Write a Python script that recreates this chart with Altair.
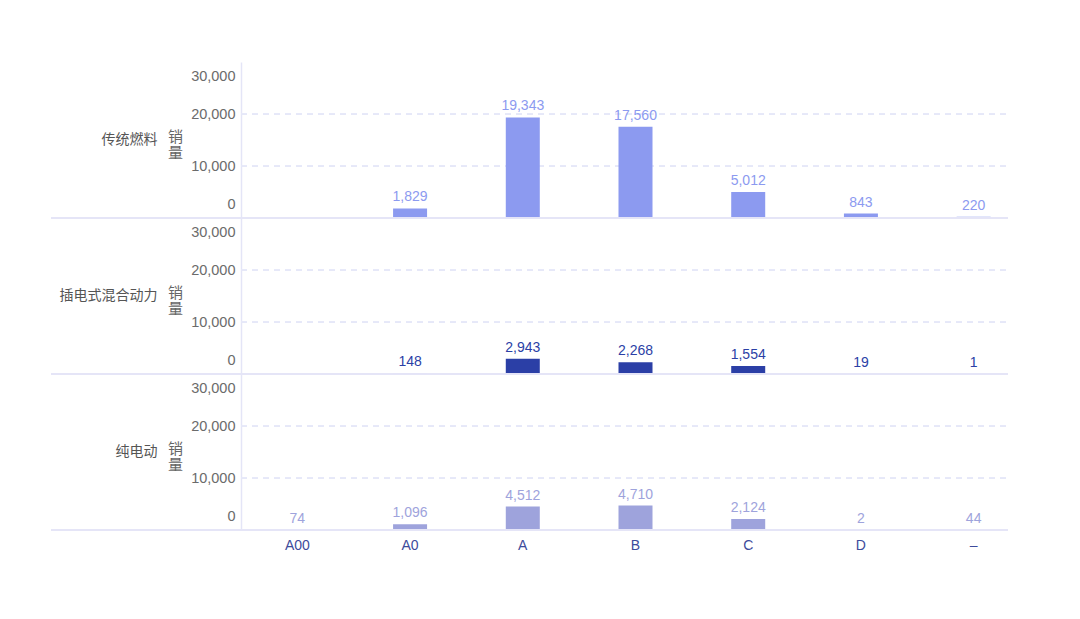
import altair as alt
import pandas as pd

categories = ["A00", "A0", "A", "B", "C", "D", "–"]
types = ["传统燃料", "插电式混合动力", "纯电动"]
fuel_sales = [None, 1829, 19343, 17560, 5012, 843, 220]
phev_sales = [None, 148, 2943, 2268, 1554, 19, 1]
bev_sales = [74, 1096, 4512, 4710, 2124, 2, 44]
y_ticks = [0, 10000, 20000, 30000]
grid_values = [10000, 20000]

rows = []
for t, vals in zip(types, [fuel_sales, phev_sales, bev_sales]):
    for c, v in zip(categories, vals):
        if v is not None:
            rows.append({"type": t, "level": c, "sales": v})
df = pd.DataFrame(rows)

colors = ["#8c9af0", "#2b3fa6", "#9ea3dc"]
text_colors = ["#8c9af0", "#2f43a3", "#a3a7db"]
FONT = "Liberation Sans, Noto Sans CJK SC"
W, H = 767, 156

x_enc = alt.X(
    "level:N",
    sort=categories,
    scale=alt.Scale(domain=categories, range=[0, 789]),
    axis=alt.Axis(
        title=None, ticks=False, tickSize=0, domain=False, grid=False,
        labelPadding=8, labelColor="#3d4b9b", labelFontSize=14, labelFont=FONT,
        labelAngle=0,
    ),
)
y_enc = alt.Y(
    "sales:Q",
    scale=alt.Scale(domain=[0, 30000], nice=False),
    axis=alt.Axis(
        values=y_ticks, format=",d", grid=False,
        labelOffset={"condition": [
            {"test": "datum.value == 0", "value": -14},
            {"test": "datum.value == 30000", "value": 14},
        ], "value": 0},
        ticks=False, tickSize=0, labelPadding=6,
        labelColor="#6b6b6b", labelFontSize=14.5, labelFont=FONT,
        domainColor="#e4e5f7", domainWidth=1.5,
        title=["销", "量"], titleAngle=0, titleAlign="center", titleBaseline="middle",
        titleX=-66, titleY=74, titleLineHeight=16, titleFontSize=15,
        titleFontWeight="normal", titleColor="#666666", titleFont=FONT,
    ),
)

base = alt.Chart(df)
color_scale = alt.Scale(domain=types, range=colors)

grid_layers = [
    base.mark_rule(color="#e6e8f8", strokeWidth=1, strokeDash=[6, 5]).encode(
        y=alt.datum(g), x=alt.value(0), x2=alt.value(W),
    )
    for g in grid_values
]
bars = base.mark_bar(size=34).encode(
    x=x_enc, y=y_enc,
    color=alt.Color("type:N", scale=color_scale, legend=None),
)
labels = base.mark_text(baseline="bottom", dy=-4, fontSize=14, font=FONT).encode(
    x=x_enc, y=y_enc,
    text=alt.Text("sales:Q", format=","),
    color=alt.Color("type:N", scale=alt.Scale(domain=types, range=text_colors), legend=None),
)
baseline = base.mark_rule(color="#e4e5f7", strokeWidth=1.5).encode(
    y=alt.datum(0), x=alt.value(-190), x2=alt.value(W),
)

layer = alt.layer(*grid_layers, bars, baseline, labels).properties(width=W, height=H)

chart = layer.facet(
    row=alt.Row(
        "type:N", sort=types, title=None,
        header=alt.Header(
            labelAngle=0, labelOrient="left", labelAlign="left",
            labelBaseline="middle", labelPadding=10, labelFontSize=14,
            labelColor="#555555", labelFont=FONT,
        ),
    ),
    spacing=0,
    bounds="flush",
).resolve_scale(color="independent").properties(
    padding={"left": 50, "top": 62, "right": 10, "bottom": 10},
    background="white",
).configure_view(stroke=None)

chart.save("out.html", embed_options={"renderer": "svg", "actions": False})
